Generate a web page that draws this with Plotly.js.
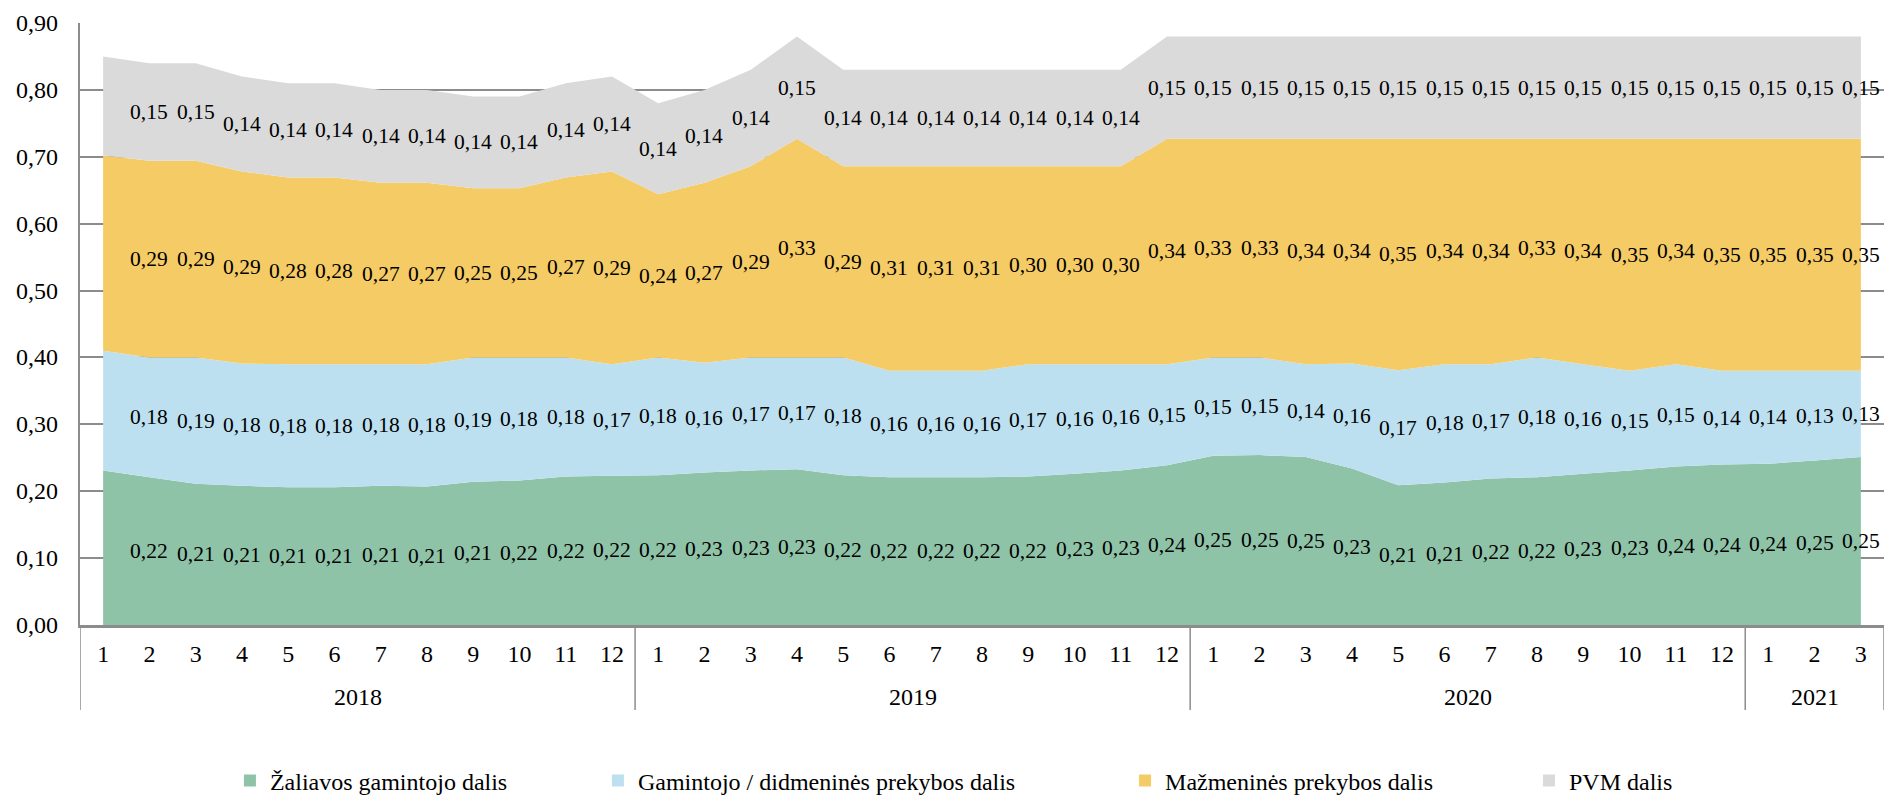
<!DOCTYPE html>
<html>
<head>
<meta charset="utf-8">
<script src="https://cdn.plot.ly/plotly-3.0.1.min.js"></script>
<style>
  html, body { margin: 0; padding: 0; background: #fff; }
  #chart { width: 1888px; height: 795px; }
</style>
</head>
<body>
<div id="chart"></div>
<script>
const years = [
  '2018','2018','2018','2018','2018','2018','2018','2018','2018','2018','2018','2018',
  '2019','2019','2019','2019','2019','2019','2019','2019','2019','2019','2019','2019',
  '2020','2020','2020','2020','2020','2020','2020','2020','2020','2020','2020','2020',
  '2021','2021','2021'
];
const months = [
  '1','2','3','4','5','6','7','8','9','10','11','12',
  '1','2','3','4','5','6','7','8','9','10','11','12',
  '1','2','3','4','5','6','7','8','9','10','11','12',
  '1','2','3'
];
const yTicks = [0, 0.1, 0.2, 0.3, 0.4, 0.5, 0.6, 0.7, 0.8, 0.9];
const seriesNames = [
  'Žaliavos gamintojo dalis',
  'Gamintojo / didmeninės prekybos dalis',
  'Mažmeninės prekybos dalis',
  'PVM dalis'
];
const zaliava = [
  0.231,0.221,0.211,0.208,0.206,0.206,0.208,0.207,0.214,0.216,0.222,0.223,
  0.224,0.228,0.231,0.233,0.224,0.221,0.221,0.221,0.222,0.226,0.231,0.239,
  0.253,0.254,0.251,0.234,0.209,0.213,0.219,0.221,0.226,0.231,0.237,0.240,
  0.241,0.246,0.251
];
const gamintojas = [
  0.179,0.179,0.189,0.183,0.184,0.184,0.182,0.183,0.186,0.184,0.178,0.167,
  0.176,0.164,0.169,0.167,0.176,0.159,0.159,0.159,0.168,0.164,0.159,0.151,
  0.147,0.146,0.139,0.157,0.172,0.177,0.171,0.179,0.164,0.149,0.153,0.140,
  0.139,0.134,0.129
];
const mazmena = [
  0.292,0.294,0.294,0.287,0.279,0.279,0.271,0.271,0.253,0.253,0.269,0.288,
  0.244,0.269,0.286,0.327,0.286,0.306,0.306,0.306,0.296,0.296,0.296,0.337,
  0.327,0.327,0.337,0.336,0.346,0.337,0.337,0.327,0.337,0.347,0.337,0.347,
  0.347,0.347,0.347
];
const pvm = [
  0.148,0.146,0.146,0.142,0.141,0.141,0.139,0.139,0.137,0.137,0.141,0.142,
  0.136,0.139,0.144,0.153,0.144,0.144,0.144,0.144,0.144,0.144,0.144,0.153,
  0.153,0.153,0.153,0.153,0.153,0.153,0.153,0.153,0.153,0.153,0.153,0.153,
  0.153,0.153,0.153
];
const colors = ['#8FC3A8', '#BDE0F0', '#F5CB65', '#DADADA'];

const FONT = "'Liberation Serif', 'Times New Roman', serif";
const series = [zaliava, gamintojas, mazmena, pvm];
const cats = years.map((y, i) => y + '-' + months[i]);
const traces = [];
const annotations = [];

// stacked areas
series.forEach((vals, i) => {
  traces.push({
    type: 'scatter', mode: 'none', x: cats, y: vals,
    stackgroup: 'one', fill: 'tonexty', fillcolor: colors[i],
    line: { width: 0 }, name: seriesNames[i], showlegend: false, hoverinfo: 'skip'
  });
});

// data labels, centred in each band (first month carries none)
let base = zaliava.map(() => 0);
series.forEach((vals, i) => {
  vals.forEach((v, k) => {
    if (k > 0) {
      annotations.push({
        x: cats[k], xref: 'x', y: base[k] + v / 2, yref: 'y',
        text: v.toFixed(2).replace('.', ','), showarrow: false,
        xanchor: 'center', yanchor: 'middle',
        font: { family: FONT, size: 21.5, color: '#000' }
      });
    }
  });
  base = base.map((b, k) => b + vals[k]);
});

// y-axis value labels
yTicks.forEach(t => {
  annotations.push({
    x: -0.0112, xref: 'paper', y: t, yref: 'y',
    text: t.toFixed(2).replace('.', ','), showarrow: false,
    xanchor: 'right', yanchor: 'middle',
    font: { family: FONT, size: 24, color: '#000' }
  });
});

// legend entries (one legend per entry, spaced like the original)
const legendIds = ['legend', 'legend2', 'legend3', 'legend4'];
series.forEach((vals, i) => {
  traces.push({
    type: 'scatter', mode: 'markers', x: [cats[0]], y: [null],
    marker: { symbol: 'square', size: 12, color: colors[i] },
    name: seriesNames[i], showlegend: true, legend: legendIds[i], hoverinfo: 'skip'
  });
});

// year groups: labels + divider lines
const groupNames = [];
const groupStart = [];
years.forEach((y, i) => { if (i === 0 || y !== years[i - 1]) { groupNames.push(y); groupStart.push(i); } });
groupNames.forEach((g, j) => {
  const s = groupStart[j];
  const e = (j + 1 < groupStart.length ? groupStart[j + 1] : years.length) - 1;
  annotations.push({
    x: (s + e) / 2, xref: 'x', y: -0.119, yref: 'paper',
    text: g, showarrow: false, xanchor: 'center', yanchor: 'middle',
    font: { family: FONT, size: 24, color: '#000' }
  });
});
const bounds = groupStart.map(s => s - 0.5).concat([years.length - 0.5]);
const shapes = bounds.map(b => ({
  type: 'line', xref: 'x', yref: 'paper', x0: b, x1: b, y0: 0, y1: -0.141,
  line: { color: '#8c8c8c', width: 1.5 }
}));

const legendX = [0.0831, 0.2871, 0.5793, 0.8032];
const legendBase = (x) => ({
  x: x, y: -0.259, xanchor: 'left', yanchor: 'middle',
  orientation: 'h', bgcolor: 'rgba(0,0,0,0)', borderwidth: 0,
  font: { family: FONT, size: 24, color: '#000' }, itemwidth: 30
});

const layout = {
  width: 1888, height: 795,
  margin: { l: 80, r: 4, t: 23, b: 170, autoexpand: false },
  paper_bgcolor: '#fff', plot_bgcolor: '#fff',
  separators: ', ',
  font: { family: FONT, size: 24, color: '#000' },
  showlegend: true,
  xaxis: {
    type: 'category', range: [-0.5, 38.5],
    tickmode: 'array', tickvals: cats, ticktext: months,
    showgrid: false, zeroline: false,
    showline: true, linecolor: '#8c8c8c', linewidth: 2.5,
    ticks: '', ticklabelstandoff: 6, automargin: false,
    tickfont: { family: FONT, size: 24, color: '#000' }
  },
  yaxis: {
    range: [0, 0.9], dtick: 0.1, tick0: 0,
    showgrid: true, gridcolor: '#8c8c8c', gridwidth: 2,
    zeroline: false, showline: true, linecolor: '#8c8c8c', linewidth: 2.5,
    ticks: '', showticklabels: false, automargin: false
  },
  annotations: annotations,
  shapes: shapes,
  legend: legendBase(legendX[0]),
  legend2: legendBase(legendX[1]),
  legend3: legendBase(legendX[2]),
  legend4: legendBase(legendX[3])
};

Plotly.newPlot('chart', traces, layout, { displayModeBar: false, staticPlot: true });
</script>
</body>
</html>
